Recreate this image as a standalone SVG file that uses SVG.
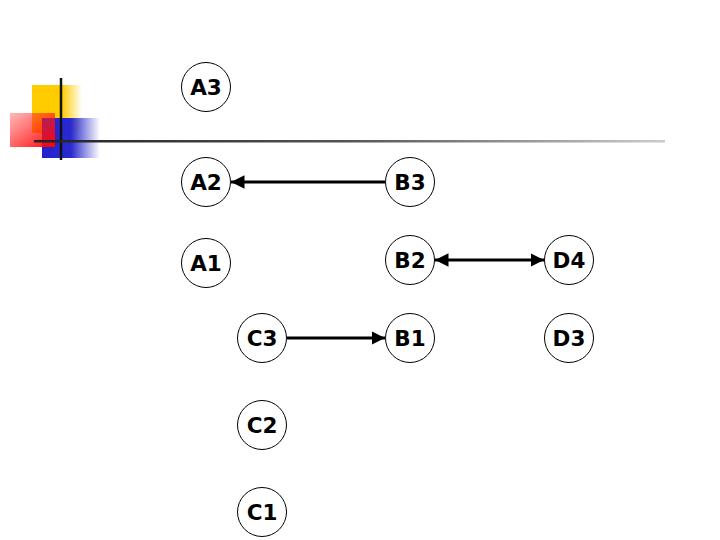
<svg xmlns="http://www.w3.org/2000/svg" width="720" height="540" viewBox="0 0 720 540">
<defs>
<linearGradient id="gy" x1="0" x2="1" y1="0" y2="0"><stop offset="0" stop-color="#ffcc00"/><stop offset="0.6" stop-color="#ffcc00"/><stop offset="1" stop-color="#ffcc00" stop-opacity="0"/></linearGradient>
<linearGradient id="gr" x1="0" x2="1" y1="0" y2="1"><stop offset="0" stop-color="#ff3333" stop-opacity="0.35"/><stop offset="1" stop-color="#ff0000"/></linearGradient>
<linearGradient id="gb" x1="0" x2="1" y1="0" y2="0"><stop offset="0" stop-color="#2222cc"/><stop offset="0.5" stop-color="#2a2ad0"/><stop offset="1" stop-color="#3333cc" stop-opacity="0"/></linearGradient>
<linearGradient id="gl" x1="0" x2="1" y1="0" y2="0"><stop offset="0" stop-color="#222"/><stop offset="0.5" stop-color="#555"/><stop offset="1" stop-color="#ccc"/></linearGradient>
<marker id="ah" viewBox="0 0 10 10" refX="10" refY="5" markerWidth="4.5" markerHeight="4.5" orient="auto-start-reverse"><path d="M0,0 L10,5 L0,10 z" fill="#000"/></marker>
</defs>
<style>
.n circle{fill:#fff;stroke:#000;stroke-width:1}
.n text{font-family:"DejaVu Sans",Verdana,sans-serif;font-weight:bold;font-size:21.5px;text-anchor:middle;dominant-baseline:central;fill:#000}
.e line{stroke:#000;stroke-width:3}
</style>
<g id="decor">
<rect x="32" y="85" width="50" height="48" fill="url(#gy)"/>
<rect x="42" y="118" width="58" height="40" fill="url(#gb)"/>
<rect x="10" y="113" width="45" height="34" fill="url(#gr)"/>
<line x1="61" y1="78" x2="61" y2="160" stroke="#111" stroke-width="2.5"/>
<rect x="34" y="140" width="631" height="2.5" fill="url(#gl)"/>
</g>
<g id="connectors" class="e">
<line x1="385" y1="182" x2="231" y2="182" marker-end="url(#ah)"/>
<line x1="435" y1="260" x2="544" y2="260" marker-start="url(#ah)" marker-end="url(#ah)"/>
<line x1="287" y1="338" x2="385" y2="338" marker-end="url(#ah)"/>
</g>
<g id="A3" class="n"><circle cx="206" cy="87" r="24.5"/><text x="206" y="87">A3</text></g>
<g id="A2" class="n"><circle cx="206" cy="182" r="24.5"/><text x="206" y="182">A2</text></g>
<g id="A1" class="n"><circle cx="206" cy="263" r="24.5"/><text x="206" y="263">A1</text></g>
<g id="B3" class="n"><circle cx="410" cy="182" r="24.5"/><text x="410" y="182">B3</text></g>
<g id="B2" class="n"><circle cx="410" cy="260" r="24.5"/><text x="410" y="260">B2</text></g>
<g id="B1" class="n"><circle cx="410" cy="338" r="24.5"/><text x="410" y="338">B1</text></g>
<g id="D4" class="n"><circle cx="569" cy="260" r="24.5"/><text x="569" y="260">D4</text></g>
<g id="D3" class="n"><circle cx="569" cy="338" r="24.5"/><text x="569" y="338">D3</text></g>
<g id="C3" class="n"><circle cx="262" cy="338" r="24.5"/><text x="262" y="338">C3</text></g>
<g id="C2" class="n"><circle cx="262" cy="425" r="24.5"/><text x="262" y="425">C2</text></g>
<g id="C1" class="n"><circle cx="262" cy="512" r="24.5"/><text x="262" y="512">C1</text></g>
</svg>
